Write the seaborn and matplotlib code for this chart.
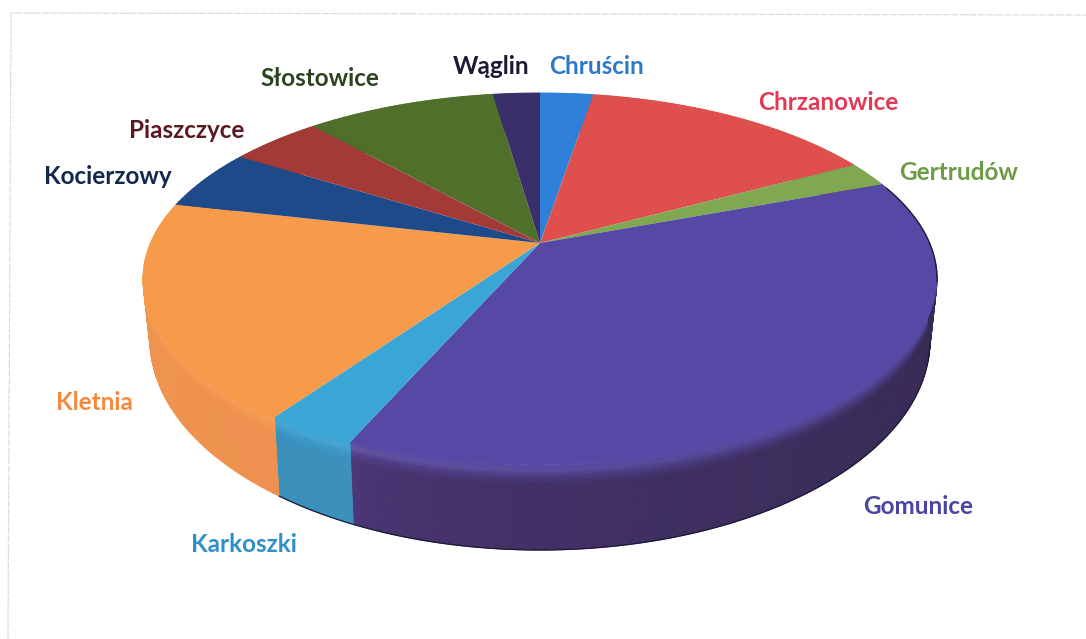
import numpy as np
import matplotlib
matplotlib.use('Agg')
import matplotlib.pyplot as plt
import matplotlib.colors as mcolors
import matplotlib.transforms as mtransforms
from matplotlib.collections import PolyCollection
import seaborn as sns

# share of each village, clockwise from the top
villages = ['Chruścin', 'Chrzanowice', 'Gertrudów', 'Gomunice', 'Karkoszki',
            'Kletnia', 'Kocierzowy', 'Piaszczyce', 'Słostowice', 'Wąglin']
shares = [2.6, 14.5, 2.2, 37.25, 3.15, 18.85, 5.3, 4.5, 9.3, 2.3]

top_colors = ['#2e80d8', '#df4f4d', '#7fa850', '#5649a6', '#3aa6d6',
              '#f79a4a', '#1f4a8a', '#a33a38', '#4f6f2a', '#3a2f6a']
wall_left = ['#2468b0', '#b03c3c', '#668a40', '#4e3779', '#3a8fba',
             '#f39b50', '#173a70', '#802c2c', '#3e5a22', '#2c2452']
wall_right = ['#2468b0', '#b03c3c', '#668a40', '#33294f', '#3c90bc',
              '#ee9150', '#173a70', '#802c2c', '#3e5a22', '#2c2452']
label_colors = ['#2e78c8', '#e23a55', '#6d9a45', '#4a45a0', '#2f8fc8',
                '#f58a3c', '#14284f', '#5a1a22', '#2c4420', '#1a1a35']
label_xy = [(597, 67), (828, 103), (959, 173), (918, 507), (244, 544),
            (94, 403), (108, 177), (187, 130), (320, 79), (491, 66)]

# pie geometry in pixels of the figure
CX, CY = 540, 243
A, B, K = 389.5, 179.0, 0.1935
TOP_CY, TOP_HALF = 279, 397
BOTTOM_CY, BOTTOM_A, BOTTOM_B = 340, 390, 210


class Tilt(mtransforms.Transform):
    input_dims = 2
    output_dims = 2

    def transform_non_affine(self, values):
        values = np.asarray(values, dtype=float)
        w = 1 + K * values[:, 1]
        return np.column_stack([CX + A * values[:, 0] / w,
                                CY - B * values[:, 1] / w])


def mix(c1, c2, t):
    return tuple(np.array(mcolors.to_rgb(c1)) * (1 - t) + np.array(mcolors.to_rgb(c2)) * t)


sns.set_theme(style='white')
plt.rcParams['font.family'] = ['Lato', 'DejaVu Sans']

fig = plt.figure(figsize=(10.86, 6.39), dpi=100, facecolor='white')
ax = fig.add_axes([0, 0, 1, 1])

palette = sns.color_palette(top_colors)
wedges, _ = ax.pie(shares, colors=palette, startangle=90, counterclock=False,
                   radius=1, wedgeprops=dict(linewidth=0, zorder=3))
ax.set_aspect('auto')
ax.set_xlim(0, 1086)
ax.set_ylim(639, 0)
ax.axis('off')

tilt = Tilt()
for wedge in wedges:
    wedge.set_transform(tilt + ax.transData)


def rim_and_low(phi):
    rad = np.radians(phi)
    rim = tilt.transform_non_affine(np.column_stack([np.cos(rad), np.sin(rad)]))
    ratio = np.clip((rim[:, 0] - CX) / TOP_HALF, -1, 1)
    side = np.where(rim[:, 1] >= TOP_CY, 1, -1)
    low = np.column_stack([CX + BOTTOM_A * ratio,
                           BOTTOM_CY + side * BOTTOM_B * np.sqrt(1 - ratio ** 2)])
    return rim, low


# side wall of the disc, built from the same wedge angles
quads, quad_colors = [], []
bands = np.r_[np.linspace(0, 0.24, 9), 1]
for i, wedge in enumerate(wedges):
    phi = np.linspace(wedge.theta1, wedge.theta2, max(int(wedge.theta2 - wedge.theta1), 4))
    rim, low = rim_and_low(phi)
    for j in range(len(phi) - 1):
        frac = (j / (len(phi) - 1)) ** 0.45
        wall = mix(wall_left[i], wall_right[i], frac)
        for b0, b1 in zip(bands[:-1], bands[1:]):
            p0 = rim[j] + (low[j] - rim[j]) * b0
            p1 = rim[j + 1] + (low[j + 1] - rim[j + 1]) * b0
            p2 = rim[j + 1] + (low[j + 1] - rim[j + 1]) * b1
            p3 = rim[j] + (low[j] - rim[j]) * b1
            t = min((b0 + b1) / 2 / 0.24, 1)
            color = mix(top_colors[i], wall, t)
            # soft lighter edge on the bevel at the front left
            glow = max(0, 1 - abs(t - 0.3) / 0.3) * (1 - frac if i == 3 else 0.6)
            color = mix(color, '#ffffff', 0.10 * glow)
            quads.append([p0, p1, p2, p3])
            quad_colors.append(color)
ax.add_collection(PolyCollection(quads, facecolors=quad_colors, edgecolors=quad_colors,
                                 linewidths=0.7, zorder=2))

# thin dark outlines on the right of the rim and under the wall
rim_edge, _ = rim_and_low(np.linspace(-12, 19, 40))
ax.plot(rim_edge[:, 0], rim_edge[:, 1], color='#1c1c3a', lw=1.0, zorder=4)
_, low_edge = rim_and_low(np.linspace(-125, -12, 200))
ax.plot(low_edge[:, 0], low_edge[:, 1], color='#1c1a35', lw=0.9, zorder=4)

for name, color, (x, y) in zip(villages, label_colors, label_xy):
    ax.text(x, y, name, color=color, fontsize=17.5, fontweight='bold', ha='center', va='center')

# faint frame of the scanned page
ax.plot([8, 11, 1086], [639, 13, 15], color='#dcdcdc', lw=0.9, ls=(0, (6, 1)), zorder=1)

fig.savefig('out.png', dpi=100)
